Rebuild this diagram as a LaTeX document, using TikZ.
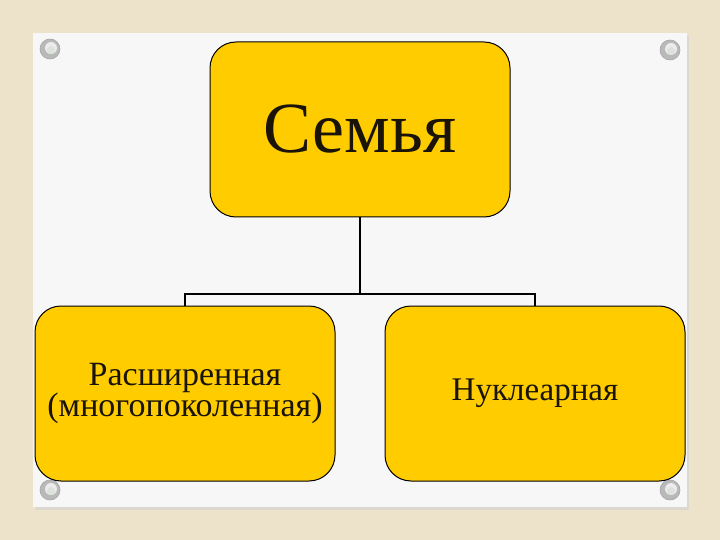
\documentclass[tikz,border=0pt]{standalone}
\usepackage{fontspec}
\setmainfont{Liberation Serif}
\definecolor{bgbeige}{HTML}{EDE3CB}
\definecolor{cardwhite}{HTML}{F7F7F7}
\definecolor{boxyellow}{HTML}{FFCC00}
\definecolor{txtdark}{HTML}{1A1408}
\begin{document}
\begin{tikzpicture}[x=1pt,y=-1pt,
  box/.style={draw=black,line width=1pt,fill=boxyellow,rounded corners=26pt,
    minimum width=300pt,minimum height=175pt,inner sep=0pt,text=txtdark,align=center},
  link/.style={draw=black,line width=2.8pt},
  pin/.style={fill=gray!55,draw=gray!70,line width=0.6pt}]
\useasboundingbox (0,0) rectangle (720,540);
\fill[bgbeige] (0,0) rectangle (720,540);
% card shadow and card
\fill[gray!35,opacity=0.6] (35,36) rectangle (689,510);
\fill[cardwhite] (33,33) rectangle (687,507);
% pins
\foreach \px/\py/\nm in {50/49/pa,670/50/pb,50/490/pc,670/490/pd}{
  \node[circle,pin,minimum size=20pt,inner sep=0pt] (\nm) at (\px,\py) {};
  \fill[gray!15] (\px+1,\py-1) circle (6pt);
  \fill[green!8!gray!25] (\px+1,\py+1) circle (4pt);
}
% boxes
\node[box] (top) at (360,129.5) {\fontsize{72}{72}\selectfont Семья};
\node[box] (left) at (185,393.5) {\fontsize{34}{32}\selectfont Расширенная\\\fontsize{34}{32}\selectfont (многопоколенная)};
\node[box] (right) at (535,393.5) {\fontsize{33}{33}\selectfont Нуклеарная};
% connectors
\coordinate (bus) at (360,294);
\draw[link] (top.south) -- (bus);
\draw[link] (left.north) |- (bus) -| (right.north);
\end{tikzpicture}
\end{document}
